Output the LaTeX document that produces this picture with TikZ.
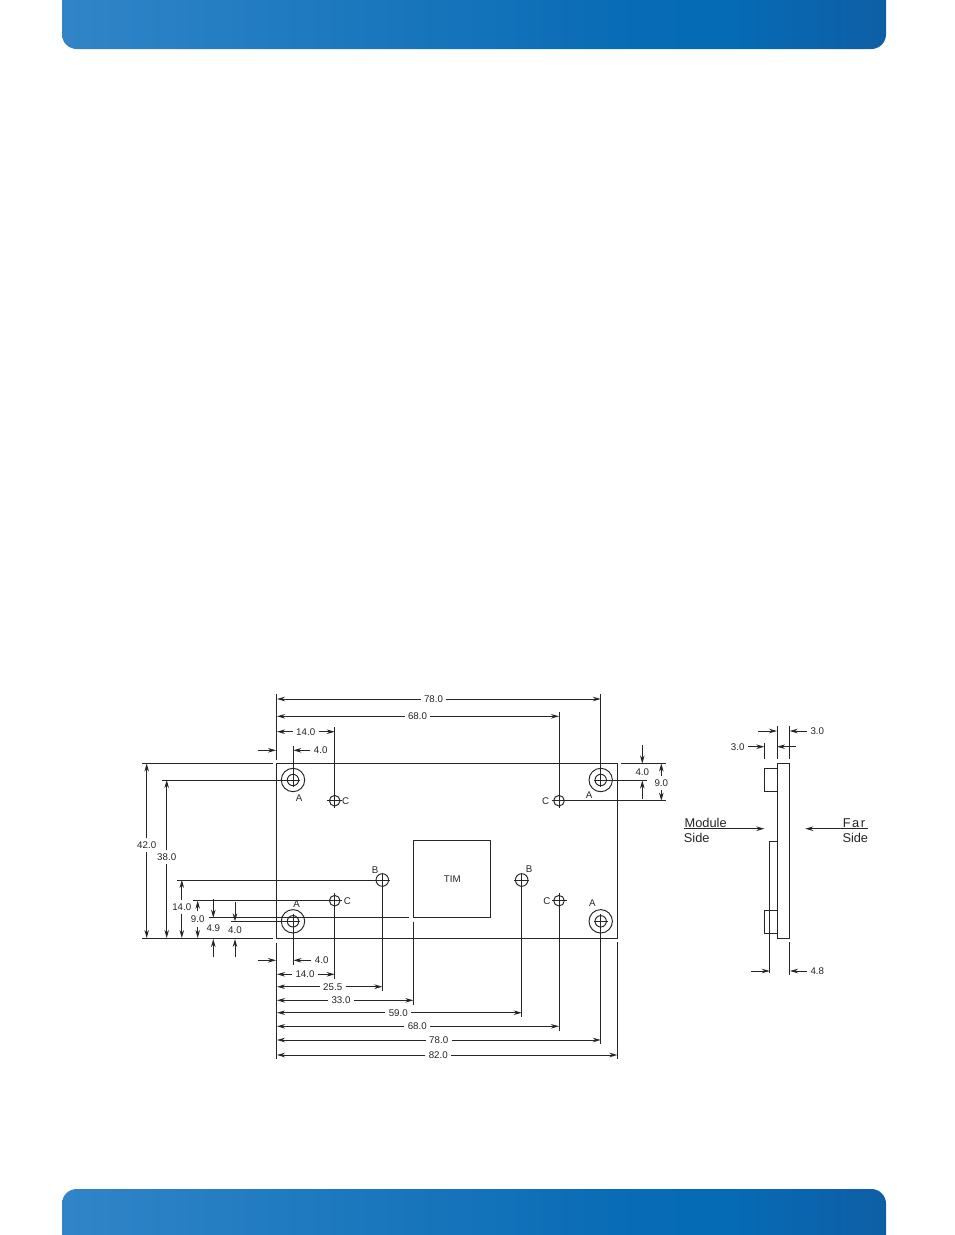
\documentclass[tikz,border=0pt]{standalone}
\usepackage{fontspec}
\setmainfont{Liberation Sans}
\usetikzlibrary{arrows.meta}
\definecolor{ink}{HTML}{262626}
\pgfdeclarehorizontalshading{banner}{100bp}{
  rgb(0bp)=(0.19,0.52,0.78);
  rgb(25bp)=(0.19,0.52,0.78);
  rgb(60bp)=(0.03,0.42,0.71);
  rgb(65bp)=(0.02,0.42,0.71);
  rgb(75bp)=(0.06,0.37,0.65);
  rgb(100bp)=(0.06,0.37,0.65)}
\tikzset{
  x=0.75pt,y=-0.75pt,
  ln/.style={draw=ink,line width=0.72pt},
  thin ln/.style={draw=ink,line width=0.65pt},
  arr/.style={ln,line width=0.72pt,-{Stealth[length=6pt,width=3.4pt]}},
  lab/.style={font=\fontsize{7.3pt}{7.5pt}\selectfont,text=ink,inner sep=2.4pt},
  big/.style={font=\fontsize{9.6pt}{10pt}\selectfont,text=ink,inner sep=0pt},
}
% horizontal dimension: name, x1, x2, y, text x, label
\newcommand{\hdimen}[6]{%
  \node[lab] (#1) at (#5,#4) {#6};
  \draw[arr] (#1.west) -- (#2,#4);
  \draw[arr] (#1.east) -- (#3,#4);}
% vertical dimension: name, y1, y2, x, text y, label
\newcommand{\vdimen}[6]{%
  \node[lab] (#1) at (#4,#5) {#6};
  \draw[arr] (#1.north) -- (#4,#2);
  \draw[arr] (#1.south) -- (#4,#3);}
% hole: name, x, y, radius, cross half size
\newcommand{\holemark}[5]{%
  \coordinate (#1) at (#2,#3);
  \draw[ln] (#1) circle[radius=#4];
  \draw[thin ln] (#2-#5,#3) -- (#2+#5,#3) (#2,#3-#5) -- (#2,#3+#5);}
\begin{document}
\begin{tikzpicture}
\clip (0,0) rectangle (954,1235);
\fill[white] (0,0) rectangle (954,1235);
% banners
\path[shading=banner,shading angle=0,rounded corners=11pt] (62,-40) rectangle (886,49);
\path[shading=banner,shading angle=0,rounded corners=11pt] (62,1189) rectangle (886,1280);
% board
\draw[ln] (276.5,763.5) rectangle (617.5,938);
\draw[ln] (413.3,917.7) -- (413.3,840.7) -- (490.7,840.7) -- (490.7,917.7) -- cycle;
\node[lab] (tim) at (452.3,879) {TIM};
% holes
\holemark{aTL}{293}{780}{11.7}{7}
\draw[ln] (aTL) circle[radius=5.7];
\holemark{aTR}{600.7}{780}{11.7}{7}
\draw[ln] (aTR) circle[radius=5.7];
\holemark{aBL}{293}{921.3}{11.7}{7}
\draw[ln] (aBL) circle[radius=5.7];
\holemark{aBR}{600.7}{921.3}{11.7}{7}
\draw[ln] (aBR) circle[radius=5.7];
\holemark{cTL}{334.7}{800.7}{5.3}{7.5}
\holemark{cTR}{559}{800.7}{5.3}{7.5}
\holemark{cBL}{334.7}{900.7}{5.3}{7.5}
\holemark{cBR}{559}{900.7}{5.3}{7.5}
\holemark{bL}{382.3}{880}{6.3}{7.5}
\holemark{bR}{521.7}{880}{6.3}{7.5}
% hole letters
\node[lab] (lAa) at (299,798) {A};
\node[lab] (lAb) at (589,795) {A};
\node[lab] (lAc) at (296.7,904.3) {A};
\node[lab] (lAd) at (592.3,903.3) {A};
\node[lab] (lCa) at (345.7,800.7) {C};
\node[lab] (lCb) at (545.7,800.7) {C};
\node[lab] (lCc) at (347.3,900.7) {C};
\node[lab] (lCd) at (547,900.7) {C};
\node[lab] (lBa) at (375,870) {B};
\node[lab] (lBb) at (529,869) {B};
% extension lines, top
\draw[ln] (276.5,694) -- (276.5,760);
\draw[ln] (276.5,942.7) -- (276.5,1059);
\draw[ln] (617.5,942) -- (617.5,1059.3);
\draw[ln] (600.7,694) -- (aTR);
\draw[ln] (559,711.7) -- (cTR);
\draw[ln] (334.7,727) -- (cTL);
\draw[ln] (293,746) -- (aTL);
% extension lines, bottom
\draw[ln] (aBL) -- (293,964.7);
\draw[ln] (cBL) -- (334.7,979);
\draw[ln] (bL) -- (382.3,991);
\draw[ln] (413.3,921.7) -- (413.3,1005);
\draw[ln] (bR) -- (521.7,1016.7);
\draw[ln] (cBR) -- (559,1030.7);
\draw[ln] (aBR) -- (600.7,1044.3);
% extension lines, left
\draw[ln] (142.3,763.5) -- (272.7,763.5);
\draw[ln] (142.3,938) -- (272.7,938);
\draw[ln] (162.3,780) -- (aTL);
\draw[ln] (177.3,880) -- (bL);
\draw[ln] (193.3,900.7) -- (cBL);
\draw[ln] (209,917.7) -- (409.3,917.7);
\draw[ln] (230.7,921.3) -- (aBL);
% extension lines, right
\draw[ln] (621,763.5) -- (665.7,763.5);
\draw[ln] (aTR) -- (646.7,780);
\draw[ln] (cTR) -- (665.7,800.7);
% horizontal dimensions top
\hdimen{dA}{277}{600.7}{699}{433.5}{78.0}
\hdimen{dB}{277}{559}{716.3}{417.5}{68.0}
\hdimen{dC}{277}{334.7}{731.7}{305.7}{14.0}
\node[lab] (dD) at (320.7,750.3) {4.0};
\draw[arr] (dD.west) -- (293.3,750.3);
\coordinate (oA) at (257.7,750.3);
\draw[arr] (oA) -- (276,750.3);
% horizontal dimensions bottom
\node[lab] (dE) at (321.7,960.3) {4.0};
\draw[arr] (dE.west) -- (293.5,960.3);
\coordinate (oB) at (257.7,960.3);
\draw[arr] (oB) -- (276,960.3);
\hdimen{dF}{277}{334.7}{974.3}{305}{14.0}
\hdimen{dG}{277}{382.3}{986.7}{332.7}{25.5}
\hdimen{dH}{277}{413.3}{1000.3}{341}{33.0}
\hdimen{dI}{277}{521.7}{1012.7}{398.3}{59.0}
\hdimen{dJ}{277}{559}{1026.3}{417.3}{68.0}
\hdimen{dK}{277}{600.7}{1040}{438.7}{78.0}
\hdimen{dL}{277}{617.3}{1055}{438.3}{82.0}
% vertical dimensions left
\vdimen{vA}{763.5}{938}{146.7}{845}{42.0}
\vdimen{vB}{780}{938}{166.7}{857.3}{38.0}
\vdimen{vC}{880}{938}{181.8}{906.7}{14.0}
\node[lab] (vD) at (197.7,919.3) {9.0};
\coordinate (vDa) at (197.7,910.5);
\coordinate (vDb) at (197.7,926.7);
\draw[arr] (vDa) -- (197.7,900.7);
\draw[arr] (vDb) -- (197.7,938);
\node[lab] (vE) at (213.3,928) {4.9};
\coordinate (vEa) at (213.3,899.3);
\coordinate (vEb) at (213.3,957.3);
\draw[arr] (vEa) -- (213.3,917.7);
\draw[arr] (vEb) -- (213.3,939);
\node[lab] (vF) at (235,929.7) {4.0};
\coordinate (vFa) at (235,902.3);
\coordinate (vFb) at (235,957.3);
\draw[arr] (vFa) -- (235,921.3);
\draw[arr] (vFb) -- (235,939);
% vertical dimensions right
\node[lab] (vG) at (642.3,771.7) {4.0};
\coordinate (vGa) at (642.3,745);
\coordinate (vGb) at (642.3,799);
\draw[arr] (vGa) -- (642.3,763.5);
\draw[arr] (vGb) -- (642.3,780.5);
\node[lab] (vH) at (661.3,782.7) {9.0};
\draw[arr] (vH.north) -- (661.3,763.5);
\draw[arr] (vH.south) -- (661.3,800.7);
% side view
\draw[ln] (777,763.3) rectangle (789.7,938);
\draw[ln] (777,768.3) -- (764.3,768.3) -- (764.3,791.3) -- (777,791.3);
\draw[ln] (777,841) -- (769.7,841) -- (769.7,973.3);
\draw[ln] (777,910) -- (764.3,910) -- (764.3,933) -- (777,933);
\draw[ln] (777,726) -- (777,759.3);
\draw[ln] (789.7,726) -- (789.7,759.3);
\draw[ln] (764.3,742.7) -- (764.3,759.3);
\draw[ln] (789.7,941.7) -- (789.7,975);
% side dimensions
\coordinate (sA) at (758.3,731);
\draw[arr] (sA) -- (777,731);
\node[lab] (sT) at (817.3,731) {3.0};
\draw[arr] (sT.west) -- (789.7,731);
\node[lab] (sU) at (737.7,746.7) {3.0};
\draw[arr] (sU.east) -- (764.3,746.7);
\coordinate (sB) at (796,746.7);
\draw[arr] (sB) -- (777,746.7);
\coordinate (sC) at (751,971);
\draw[arr] (sC) -- (769.7,971);
\node[lab] (sV) at (817.3,971) {4.8};
\draw[arr] (sV.west) -- (790,971);
% side labels
\node[big] (tM) at (705.7,823.3) {Module};
\node[big] (tMs) at (696.7,837.7) {Side};
\node[big] (tF) at (854,823.3) {\addfontfeature{LetterSpace=12}Far};
\node[big] (tFs) at (855.3,837.7) {Side};
\coordinate (mA) at (684,828.7);
\coordinate (fA) at (868.3,828.7);
\draw[arr] (mA) -- (764.3,828.7);
\draw[arr] (fA) -- (805.3,828.7);
\end{tikzpicture}
\end{document}
